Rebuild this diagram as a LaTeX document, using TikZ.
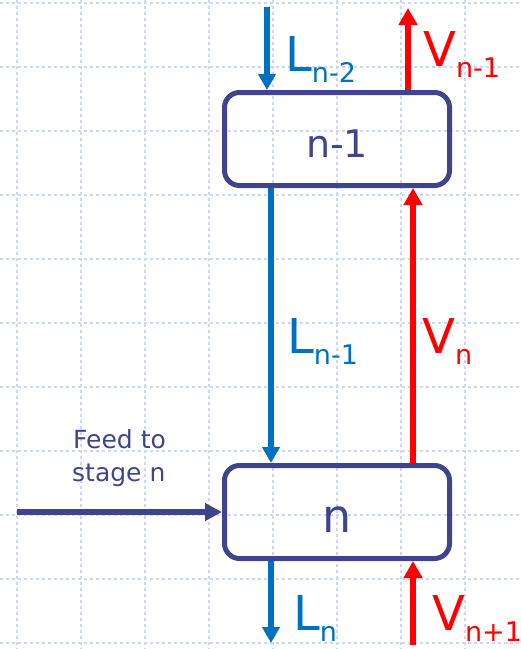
\documentclass[tikz,border=0pt]{standalone}
\usepackage{fontspec}
\setmainfont{DejaVu Sans}
\usetikzlibrary{arrows.meta}
\definecolor{navy}{RGB}{64,68,140}
\definecolor{lblue}{RGB}{0,112,192}
\definecolor{gridc}{RGB}{204,214,250}
\newcommand\flowlab[2]{{\fontsize{48}{48}\selectfont #1}\raisebox{-11pt}{\fontsize{27}{27}\selectfont #2}}
\begin{document}
\begin{tikzpicture}[x=1pt,y=-1pt,
  gridline/.style={gridc,line width=2pt,dash pattern=on 2.5pt off 3.5pt},
  stagebox/.style={draw=navy,line width=5pt,rounded corners=15pt,minimum width=225pt,minimum height=93pt,inner sep=0pt},
  liq/.style={draw=lblue,line width=6.3pt,-{Triangle[width=17pt,length=16pt]}},
  vap/.style={draw=red,line width=6.7pt,-{Triangle[width=18pt,length=17pt]}},
  feed/.style={draw=navy,line width=6pt,-{Triangle[width=17pt,length=17pt]}},
  liqlab/.style={text=lblue,anchor=base west,inner sep=0pt},
  vaplab/.style={text=red,anchor=base west,inner sep=0pt}]
\useasboundingbox (0,0) rectangle (521,649);
\foreach \y in {3,67,...,643} \draw[gridline] (0,\y) -- (521,\y);
\foreach \x in {17,81,...,465} \draw[gridline] (\x,0) -- (\x,649);
% stages
\node[stagebox] (b1) at (337,139) {};
\node[stagebox] (b2) at (337,512) {};
\node[text=navy,anchor=base,inner sep=0pt,font=\fontsize{38}{38}\selectfont] (t1) at (337,157) {n-1};
\node[text=navy,anchor=base,inner sep=0pt,font=\fontsize{46}{46}\selectfont] (t2) at (337,532) {n};
% coordinates
\coordinate (Ltop) at (267,7);
\coordinate (Lmid) at (271,300);
\coordinate (Vtop) at (408,8);
\coordinate (Vmid) at (413,300);
\coordinate (Lbot) at (271,643);
\coordinate (Vbot) at (413,645);
\coordinate (Fin) at (17,512);
% liquid arrows
\draw[liq] (Ltop) -- (Ltop |- b1.north);
\draw[liq] (Lmid |- b1.south) -- (Lmid |- b2.north);
\draw[liq] (Lbot |- b2.south) -- (Lbot);
% vapour arrows
\draw[vap] (Vtop |- b1.north) -- (Vtop);
\draw[vap] (Vmid |- b2.north) -- (Vmid |- b1.south);
\draw[vap] (Vbot) -- (Vbot |- b2.south);
% feed
\draw[feed] (Fin) -- (b2.west);
% labels
\node[liqlab] (l1) at (285,71) {\flowlab{L}{n-2}};
\node[vaplab] (v1) at (423,66) {\flowlab{V}{n-1}};
\node[liqlab] (l2) at (287,353) {\flowlab{L}{n-1}};
\node[vaplab] (v2) at (422,353) {\flowlab{V}{n}};
\node[liqlab] (l3) at (293,630) {\flowlab{L}{n}};
\node[vaplab] (v3) at (432,630) {\flowlab{V}{n+1}};
\node[text=navy,anchor=base west,inner sep=0pt,font=\fontsize{25}{25}\selectfont] (f1) at (73,448) {Feed to};
\node[text=navy,anchor=base west,inner sep=0pt,font=\fontsize{25}{25}\selectfont] (f2) at (72,481) {stage n};
\end{tikzpicture}
\end{document}
